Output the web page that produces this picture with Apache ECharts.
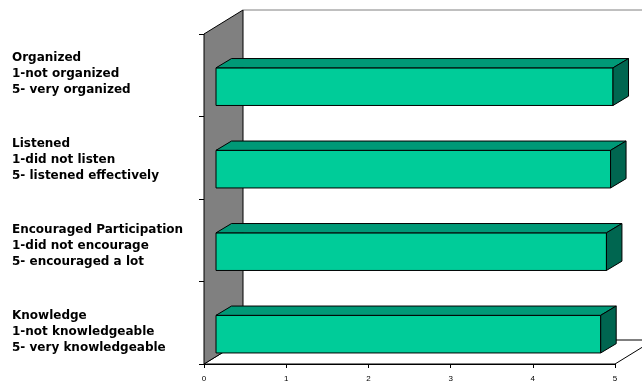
<!DOCTYPE html>
<html>
<head>
<meta charset="utf-8">
<script src="https://cdn.jsdelivr.net/npm/echarts@6/dist/echarts.min.js"></script>
<style>
html,body{margin:0;padding:0;background:#fff;}
#chart{width:642px;height:383px;}
</style>
</head>
<body>
<div id="chart"></div>
<script>
// ---- data ----
const categories = ['Knowledge', 'Encouraged Participation', 'Listened', 'Organized'];
const labelLine2 = ['1-not knowledgeable', '1-did not encourage', '1-did not listen', '1-not organized'];
const labelLine3 = ['5- very knowledgeable', '5- encouraged a lot', '5- listened effectively', '5- very organized'];
const scores = [4.68, 4.75, 4.80, 4.83];
const xMin = 0, xMax = 5, xStep = 1;

// ---- style constants ----
const WALL_D = [39, -24];      // depth vector of the 3D box
const BAR_D = [15.5, -9.3];     // depth of each bar
const BAR_SHIFT = [12, 11.4];   // front face shift of bars
const BAR_FRAC = 0.456;

const chart = echarts.init(document.getElementById('chart'), null, {renderer: 'canvas'});

function renderFrame(params, api) {
  const band = api.size([0, 1])[1];
  const pl = api.coord([xMin, 0]);
  const pr = api.coord([xMax, 0]);
  const pt = api.coord([xMin, categories.length - 1]);
  const left = pl[0], right = pr[0];
  const bottom = pl[1] + band / 2, top = pt[1] - band / 2;
  const dx = WALL_D[0], dy = WALL_D[1];
  return {
    type: 'group',
    children: [
      { type: 'polygon', shape: { points: [[left + dx, top + dy], [right + dx, top + dy], [right + dx, bottom + dy], [left + dx, bottom + dy]] },
        style: { fill: '#ffffff', stroke: null } },
      { type: 'polyline', shape: { points: [[left + dx, top + dy], [right + dx, top + dy]] },
        style: { stroke: '#808080', lineWidth: 1, fill: null } },
      { type: 'polygon', shape: { points: [[left, bottom], [right, bottom], [right + dx, bottom + dy], [left + dx, bottom + dy]] },
        style: { fill: '#ffffff', stroke: '#000000', lineWidth: 1 } },
      { type: 'polygon', shape: { points: [[left, top], [left + dx, top + dy], [left + dx, bottom + dy], [left, bottom]] },
        style: { fill: '#808080', stroke: '#000000', lineWidth: 1 } }
    ]
  };
}

function renderBar(params, api) {
  const c = api.value(0), v = api.value(1);
  const p0 = api.coord([0, c]);
  const p1 = api.coord([v, c]);
  const band = api.size([0, 1])[1];
  const h = band * BAR_FRAC;
  const x0 = p0[0] + BAR_SHIFT[0], x1 = p1[0] + BAR_SHIFT[0];
  const yc = p0[1] + BAR_SHIFT[1];
  const t = yc - h / 2, b = yc + h / 2;
  const dx = BAR_D[0], dy = BAR_D[1];
  const st = { stroke: '#000000', lineWidth: 1 };
  return {
    type: 'group',
    children: [
      { type: 'polygon', shape: { points: [[x0, t], [x1, t], [x1, b], [x0, b]] }, style: Object.assign({ fill: '#00CC99' }, st) },
      { type: 'polygon', shape: { points: [[x0, t], [x0 + dx, t + dy], [x1 + dx, t + dy], [x1, t]] }, style: Object.assign({ fill: '#009977' }, st) },
      { type: 'polygon', shape: { points: [[x1, t], [x1 + dx, t + dy], [x1 + dx, b + dy], [x1, b]] }, style: Object.assign({ fill: '#006650' }, st) }
    ]
  };
}

const option = {
  animation: false,
  backgroundColor: '#ffffff',
  grid: [
    { left: 204, right: 27, top: 34, bottom: 16, containLabel: false },
    { left: 204, right: 27, top: 30.5, bottom: 8.5, containLabel: false }
  ],
  xAxis: [
    { type: 'value', gridIndex: 0, min: xMin, max: xMax, interval: xStep,
      axisLine: { show: true, lineStyle: { color: '#000', width: 1 } },
      axisTick: { show: true, length: 4, lineStyle: { color: '#000' } },
      splitLine: { show: false },
      axisLabel: { fontSize: 8, color: '#000', margin: 11, fontFamily: 'Liberation Sans, Arial, sans-serif' } },
    { type: 'value', gridIndex: 1, min: 0, max: 5, show: false }
  ],
  yAxis: [
    { type: 'category', gridIndex: 0, data: categories,
      axisLine: { show: true, lineStyle: { color: '#000', width: 1 } },
      axisTick: { show: true, length: 5, alignWithLabel: false, lineStyle: { color: '#000' } },
      axisLabel: { show: false },
      splitLine: { show: false } },
    { type: 'category', gridIndex: 1, data: categories,
      axisLine: { show: false }, axisTick: { show: false }, splitLine: { show: false },
      axisLabel: {
        show: true, align: 'left', margin: 192,
        fontSize: 12, fontWeight: 'bold', color: '#000', lineHeight: 16,
        fontFamily: 'DejaVu Sans, sans-serif',
        formatter: function (val, idx) { return val + '\n' + labelLine2[idx] + '\n' + labelLine3[idx]; }
      } }
  ],
  series: [
    { type: 'custom', name: 'frame', xAxisIndex: 0, yAxisIndex: 0, clip: false, silent: true,
      renderItem: renderFrame, data: [[0, 0]], encode: { x: 1, y: 0 } },
    { type: 'custom', name: 'score', xAxisIndex: 0, yAxisIndex: 0, clip: false,
      renderItem: renderBar, data: scores.map(function (v, i) { return [i, v]; }), encode: { x: 1, y: 0 } }
  ]
};
chart.setOption(option);
</script>
</body>
</html>
